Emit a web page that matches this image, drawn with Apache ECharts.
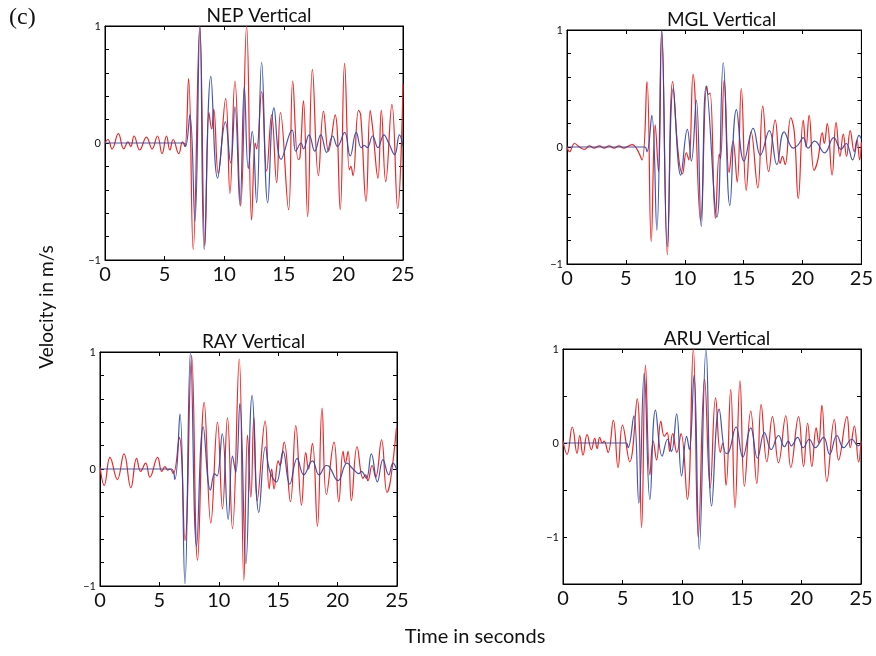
<!DOCTYPE html>
<html><head><meta charset="utf-8">
<script src="https://cdn.jsdelivr.net/npm/echarts/dist/echarts.min.js"></script>
<style>html,body{margin:0;padding:0;background:#fff}#c{width:876px;height:656px}</style>
</head><body><div id="c"></div>
<script>
// ---- data: [time s, velocity] extrema ----
const titles = ['NEP Vertical', 'MGL Vertical', 'RAY Vertical', 'ARU Vertical'];
const xTicks = [0, 5, 10, 15, 20, 25];
const yLabelValues = [-1, 0, 1];

const nepRed = [[0,0],[0.25,0.03],[0.59,-0.05],[1.12,0.08],[1.57,-0.05],[1.93,0.01],[2.16,-0.03],[2.44,0.06],[2.91,-0.06],[3.48,0.05],[3.95,-0.05],[4.4,0.06],[4.79,-0.09],[5.16,0.06],[5.44,-0.06],[5.72,0.03],[6.19,-0.09],[6.5,0.01],[6.7,-0.03],[7.01,0.55],[7.4,-0.91],[7.95,1.0],[8.38,-0.88],[8.72,0.26],[8.95,0.12],[9.12,0.29],[9.5,-0.26],[10.12,0.38],[10.48,-0.43],[10.9,0.53],[11.38,-0.54],[11.88,1.0],[12.3,-0.66],[12.6,0.0],[12.72,-0.05],[13.14,0.44],[13.56,-0.24],[13.98,0.24],[14.4,-0.34],[14.72,0.26],[15.4,-0.57],[15.75,0.53],[16.2,-0.14],[16.35,-0.13],[16.65,0.36],[17.0,-0.63],[17.4,0.63],[17.9,-0.28],[18.33,0.27],[18.75,-0.07],[19.3,0.24],[19.73,-0.57],[20.1,0.68],[20.5,-0.23],[20.62,-0.2],[20.8,-0.28],[21.27,0.28],[21.45,0.24],[21.9,-0.5],[22.25,0.28],[22.45,0.13],[22.9,-0.3],[23.18,0.28],[23.55,-0.33],[24.07,0.33],[24.55,-0.56],[25,0.5]];
const nepBlue = [[0,0],[6.6,0],[6.75,-0.03],[7.12,0.24],[7.54,-0.67],[7.96,1.0],[8.32,-0.91],[8.88,0.57],[9.45,-0.3],[10.1,0.18],[10.54,-0.17],[10.9,0.31],[11.32,-0.53],[11.69,0.48],[12.02,-0.22],[12.35,0.1],[12.72,-0.51],[13.14,0.69],[13.65,-0.51],[14.18,0.3],[14.77,-0.14],[15.7,0.11],[16.0,-0.07],[16.45,0.0],[16.65,-0.05],[17.12,0.07],[17.6,-0.07],[18.1,0.07],[18.6,-0.08],[19.1,0.06],[19.5,-0.03],[20.1,0.09],[20.57,-0.11],[21.08,0.09],[21.5,-0.04],[21.75,-0.02],[22.0,-0.04],[22.45,0.06],[22.9,-0.04],[23.4,0.07],[23.8,0.0],[24.3,-0.1],[24.7,0.07],[25,-0.03]];

const mglRed = [[0,0],[0.22,-0.04],[0.64,0.03],[1.06,0.0],[1.48,-0.02],[1.9,0.01],[2.32,-0.01],[2.74,0.01],[3.16,-0.01],[3.58,0.01],[4.0,-0.01],[4.41,0.01],[4.83,-0.01],[5.25,0.01],[5.53,0.02],[5.95,-0.02],[6.37,-0.11],[6.79,0.56],[7.15,-0.81],[7.49,0.19],[7.77,-0.21],[8.04,0.99],[8.52,-0.92],[8.97,0.56],[9.45,-0.06],[9.8,-0.23],[10.13,-0.05],[10.35,-0.11],[10.7,0.62],[11.34,-0.63],[11.87,0.52],[12.0,0.45],[12.15,0.46],[12.6,-0.61],[12.93,-0.06],[13.03,-0.1],[13.35,0.57],[13.77,-0.22],[14.1,0.05],[14.45,-0.3],[14.8,0.5],[15.22,-0.37],[15.64,0.13],[16.2,-0.35],[16.62,0.35],[17.12,-0.21],[17.68,0.23],[18.1,-0.14],[18.3,-0.08],[18.52,-0.15],[19.0,0.25],[19.3,0.13],[19.64,-0.44],[20.06,0.23],[20.3,0.0],[20.56,0.27],[20.98,-0.2],[21.3,-0.11],[21.68,0.12],[21.85,0.03],[22.1,0.2],[22.51,-0.24],[22.85,0.21],[23.18,-0.08],[23.46,0.11],[23.74,-0.08],[24.05,0.14],[24.39,-0.04],[24.62,0.06],[24.85,-0.11],[25,0.04]];
const mglBlue = [[0,0],[6.6,0],[6.79,-0.04],[7.2,0.27],[7.63,-0.71],[8.05,1.0],[8.52,-0.85],[9.02,0.5],[9.66,-0.24],[10.22,0.15],[10.56,-0.12],[10.98,0.4],[11.4,-0.68],[11.82,0.52],[12.73,-0.6],[13.27,0.72],[13.83,-0.5],[14.39,0.32],[15.03,-0.12],[15.81,0.16],[16.42,-0.07],[17.18,0.14],[17.82,-0.15],[18.44,0.13],[19.22,-0.01],[19.64,0.02],[20.06,0.08],[20.47,-0.01],[21.03,0.05],[21.87,-0.05],[22.65,0.08],[23.27,-0.02],[23.7,0.03],[24.25,-0.11],[24.8,0.1],[25,0.07]];

const rayRed = [[0,0.02],[0.36,-0.14],[0.84,0.1],[1.46,-0.09],[2.02,0.13],[2.6,-0.16],[3.08,0.09],[3.42,-0.02],[3.84,0.05],[4.2,-0.07],[4.85,0.1],[5.2,-0.02],[5.47,0.02],[5.7,-0.01],[5.9,0.0],[6.17,-0.04],[6.67,0.27],[7.15,-0.61],[7.71,0.97],[8.21,-0.78],[8.77,0.57],[9.33,-0.46],[9.89,0.4],[10.31,-0.34],[10.73,0.44],[11.15,-0.51],[11.72,0.94],[12.11,-0.95],[12.42,0.29],[12.7,-0.24],[12.95,0.44],[13.23,-0.27],[13.9,0.41],[14.24,-0.17],[14.45,0.0],[14.65,-0.17],[15.0,0.07],[15.15,0.03],[15.5,0.23],[16.03,-0.28],[16.48,0.37],[16.96,-0.31],[17.32,0.14],[17.55,0.0],[17.88,0.22],[18.3,-0.49],[18.69,0.52],[19.06,-0.22],[19.7,0.23],[20.1,-0.28],[20.46,0.15],[20.65,0.05],[20.88,0.15],[21.16,-0.27],[21.64,0.19],[22.14,-0.08],[22.35,-0.05],[22.55,-0.1],[22.9,0.03],[23.2,-0.07],[23.7,0.25],[24.16,-0.2],[24.45,-0.1],[24.95,0.35]];
const rayBlue = [[0,0],[6.0,0],[6.3,-0.09],[6.73,0.47],[7.15,-0.98],[7.62,1.0],[8.13,-0.66],[8.69,0.36],[9.3,-0.18],[9.65,-0.04],[9.85,-0.06],[10.29,0.3],[10.79,-0.43],[11.15,0.11],[11.43,-0.03],[11.77,0.56],[12.28,-0.81],[12.81,0.63],[13.37,-0.37],[13.93,0.19],[14.29,-0.02],[14.85,-0.11],[15.41,0.15],[15.97,-0.13],[16.6,0.09],[17.15,-0.05],[17.88,0.07],[18.44,-0.05],[19.06,0.03],[19.3,0.02],[20.04,-0.1],[20.8,0.05],[21.3,0.0],[21.8,-0.04],[22.0,-0.02],[22.42,-0.08],[22.84,0.13],[23.35,-0.11],[23.82,0.08],[24.3,-0.05],[24.66,0.05],[25,-0.01]];

const aruRed = [[0,0.02],[0.34,-0.12],[0.78,0.17],[1.18,-0.11],[1.4,0.08],[1.68,-0.13],[2.02,0.09],[2.38,-0.07],[2.66,0.05],[2.86,-0.06],[3.08,0.06],[3.3,0.0],[3.45,0.02],[3.78,-0.1],[4.22,0.24],[4.62,-0.26],[4.99,0.19],[5.6,-0.2],[6.22,0.47],[6.59,-0.9],[6.92,0.83],[7.29,-0.34],[7.57,0.02],[7.85,-0.18],[8.21,0.23],[8.5,0.07],[8.74,0.11],[8.95,-0.09],[9.2,0.1],[9.55,-0.1],[9.9,0.1],[10.43,-0.6],[10.93,1.0],[11.35,-1.0],[11.88,0.68],[12.35,-0.48],[12.8,0.48],[13.2,-0.1],[13.4,0.0],[13.68,-0.45],[14.07,0.57],[14.43,-0.69],[14.85,0.66],[15.22,-0.46],[15.75,0.34],[16.26,-0.43],[16.62,0.41],[17.1,-0.2],[17.57,0.28],[18.08,-0.21],[18.69,0.29],[19.11,-0.26],[19.76,0.28],[20.18,-0.25],[20.52,0.21],[20.88,-0.25],[21.24,0.16],[21.45,0.0],[21.72,0.4],[22.14,-0.41],[22.76,0.25],[23.12,-0.18],[23.82,0.28],[24.1,-0.05],[24.44,0.18],[24.8,-0.2],[25,0.02]];
const aruBlue = [[0,0],[5.3,0],[5.46,-0.05],[5.94,0.29],[6.36,-0.64],[6.81,0.74],[7.29,-0.6],[7.76,0.35],[8.32,-0.14],[8.77,0.04],[9.1,-0.09],[9.53,0.31],[9.95,-0.35],[10.37,0.07],[10.6,-0.07],[10.99,0.72],[11.43,-1.13],[12.0,1.0],[12.47,-0.67],[13.1,0.36],[13.68,-0.11],[13.9,-0.1],[14.52,0.17],[15.08,-0.15],[15.75,0.16],[16.31,-0.16],[16.9,0.11],[17.46,-0.07],[18.08,0.08],[18.58,-0.04],[18.9,0.02],[19.15,-0.03],[19.68,0.06],[20.15,-0.05],[20.66,0.04],[21.16,-0.05],[21.86,0.06],[22.37,-0.12],[22.98,0.08],[23.54,-0.05],[24.24,0.04],[24.75,-0.03],[25,0.0]];

const yRanges = [[-1,1,0.2],[-1,1,0.2],[-1,1,0.2],[-1.5,1,0.5]];
const redSeries = [nepRed, mglRed, rayRed, aruRed];
const blueSeries = [nepBlue, mglBlue, rayBlue, aruBlue];

// ---- layout ----
const grids = [
  {left:105, top:26, width:298, height:234},
  {left:567, top:30, width:299, height:234},
  {left:100, top:352, width:297, height:234},
  {left:563, top:349, width:298, height:235}
];
const FONT = 'Lato, "Open Sans", sans-serif';
const option = {
  animation:false,
  backgroundColor:'#fff',
  grid: grids.map(g => Object.assign({show:true, borderColor:'#000', borderWidth:1, containLabel:false}, g)),
  title: grids.map((g,i)=>({
    text:titles[i], left:g.left+g.width/2, top:g.top-25, textAlign:'center',
    textStyle:{fontFamily:FONT, fontSize:19, fontWeight:'normal', color:'#111'}
  })),
  xAxis: [], yAxis: [], series: [],
  graphic: [
    {type:'text', left:9, top:6, style:{text:'(c)', font:'24px "Liberation Serif", serif', fill:'#111'}},
    {type:'text', x:47, y:307, rotation:Math.PI/2, style:{text:'Velocity in m/s', font:'19px '+FONT, fill:'#111', align:'center', verticalAlign:'middle'}},
    {type:'text', x:475, y:637, style:{text:'Time in seconds', font:'20px '+FONT, fill:'#111', align:'center', verticalAlign:'middle'}}
  ]
};
grids.forEach((g,i)=>{
  const [ymin,ymax,yint] = yRanges[i];
  const tick = {show:true, inside:true, length:4, lineStyle:{color:'#000', width:1}};
  const line = {show:true, onZero:false, lineStyle:{color:'#000', width:1}};
  option.xAxis.push({gridIndex:i, type:'value', min:xTicks[0], max:xTicks[xTicks.length-1], interval:5, position:'bottom',
    axisLine:line, axisTick:tick, splitLine:{show:false},
    axisLabel:{fontFamily:FONT, fontSize:20, color:'#111', margin:5}});
  option.xAxis.push({gridIndex:i, type:'value', min:xTicks[0], max:xTicks[xTicks.length-1], interval:5, position:'top',
    axisLine:line, axisTick:tick, splitLine:{show:false}, axisLabel:{show:false}});
  option.yAxis.push({gridIndex:i, type:'value', min:ymin, max:ymax, interval:yint, position:'left',
    axisLine:line, axisTick:tick, splitLine:{show:false},
    axisLabel:{fontFamily:FONT, fontSize:11, color:'#111', margin:4,
      formatter:v=>{ const r=Math.round(v); return (Math.abs(v-r)<1e-6 && yLabelValues.includes(r)) ? (r<0?'\u2212'+(-r):String(r)) : ''; }}});
  option.yAxis.push({gridIndex:i, type:'value', min:ymin, max:ymax, interval:yint, position:'right',
    axisLine:line, axisTick:tick, splitLine:{show:false}, axisLabel:{show:false}});
  option.series.push({type:'line', xAxisIndex:2*i, yAxisIndex:2*i, data:redSeries[i], showSymbol:false, smooth:0.45,
    lineStyle:{color:'#ee2626', width:1.2}, z:2});
  option.series.push({type:'line', xAxisIndex:2*i, yAxisIndex:2*i, data:blueSeries[i], showSymbol:false, smooth:0.45,
    lineStyle:{color:'#2b46a6', width:1.2, opacity:0.9}, z:3});
});
const chart = echarts.init(document.getElementById('c'), null, {renderer:'canvas'});
chart.setOption(option);
</script></body></html>
